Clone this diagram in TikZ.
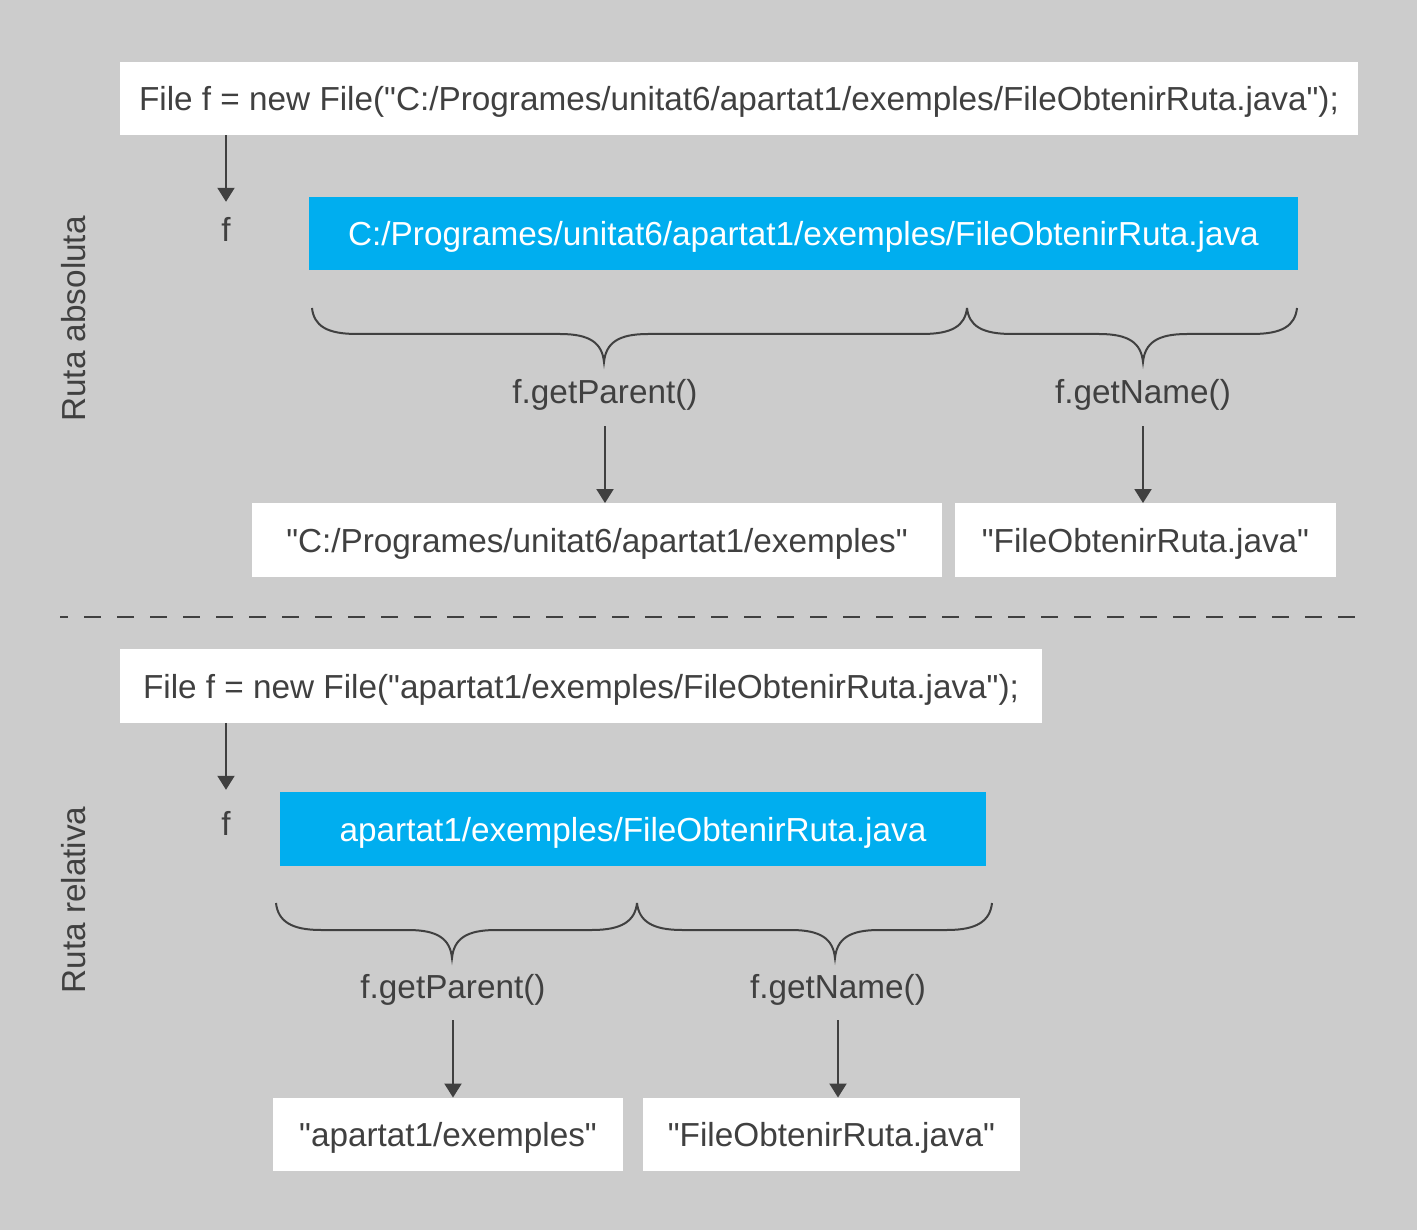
\documentclass[tikz,border=0pt]{standalone}
\usepackage{fontspec}
\setmainfont{Liberation Sans}[Ligatures=TeXOff]
\usetikzlibrary{arrows.meta,calc}
\definecolor{bgc}{RGB}{204,204,204}
\definecolor{bluec}{RGB}{0,174,239}
\definecolor{txtc}{RGB}{64,64,64}
\definecolor{linec}{RGB}{64,64,64}
\begin{document}
\begin{tikzpicture}[x=1pt,y=-1pt,
  every node/.style={font=\fontsize{33.3}{40}\selectfont, text=txtc, inner sep=0pt, text height=24pt, text depth=0pt},
  whitebox/.style={fill=white, minimum height=73.5pt},
  bluebox/.style={fill=bluec, text=white, minimum height=73.5pt},
  lbl/.style={minimum height=68pt},
  conn/.style={draw=linec, line width=2pt, -{Triangle[width=17pt,length=14pt]}},
  bracestyle/.style={draw=linec, line width=2pt},
  sidelbl/.style={rotate=90}]
\fill[bgc] (0,0) rectangle (1417,1230);
\useasboundingbox (0,0) rectangle (1417,1230);

% ---------- absolute path ----------
\node[whitebox, minimum width=1238pt] (code1) at (739,98.5) {File f = new File("C:/Programes/unitat6/apartat1/exemples/FileObtenirRuta.java");};
\node[minimum height=56pt] (f1) at (226,230) {f};
\node[bluebox, minimum width=989pt] (blue1) at (803.5,233.5) {C:/Programes/unitat6/apartat1/exemples/FileObtenirRuta.java};
\node[lbl] (gp1) at (605,392) {f.getParent()};
\node[lbl] (gn1) at (1143,392) {f.getName()};
\node[whitebox, minimum width=690pt] (res1a) at (597,540) {"C:/Programes/unitat6/apartat1/exemples"};
\node[whitebox, minimum width=381pt] (res1b) at (1145.5,540) {"FileObtenirRuta.java"};
\node[sidelbl] (side1) at (73,319) {Ruta absoluta};

\draw[conn] (code1.south -| f1.north) -- (f1.north);
\draw[conn] (gp1.south) -- (gp1.south |- res1a.north);
\draw[conn] (gn1.south) -- (gn1.south |- res1b.north);

\draw[bracestyle] (312,308) .. controls (314,326) and (327,334) .. (357,334)
  -- (560,334) .. controls (590,334) and (602,343) .. (604,362)
  .. controls (606,343) and (618,334) .. (648,334)
  -- (922,334) .. controls (952,334) and (965,326) .. (967,308);
\draw[bracestyle] (967,308) .. controls (969,326) and (982,334) .. (1012,334)
  -- (1099,334) .. controls (1129,334) and (1141,343) .. (1143,362)
  .. controls (1145,343) and (1157,334) .. (1187,334)
  -- (1252,334) .. controls (1282,334) and (1295,326) .. (1297,308);

% ---------- separator ----------
\draw[draw=linec, line width=2pt, dash pattern=on 17pt off 16pt, dash phase=9pt] (60,617) -- (1358,617);

% ---------- relative path ----------
\node[whitebox, minimum width=922pt] (code2) at (581,686) {File f = new File("apartat1/exemples/FileObtenirRuta.java");};
\node[minimum height=66pt] (f2) at (226,823) {f};
\node[bluebox, minimum width=706pt] (blue2) at (633,829) {apartat1/exemples/FileObtenirRuta.java};
\node[lbl] (gp2) at (453,986) {f.getParent()};
\node[lbl] (gn2) at (838,986) {f.getName()};
\node[whitebox, minimum width=350pt] (res2a) at (448,1134.5) {"apartat1/exemples"};
\node[whitebox, minimum width=377pt] (res2b) at (831.5,1134.5) {"FileObtenirRuta.java"};
\node[sidelbl] (side2) at (73,900) {Ruta relativa};

\draw[conn] (code2.south -| f2.north) -- (f2.north);
\draw[conn] (gp2.south) -- (gp2.south |- res2a.north);
\draw[conn] (gn2.south) -- (gn2.south |- res2b.north);

\draw[bracestyle] (276,903) .. controls (278,921) and (291,930) .. (321,930)
  -- (408,930) .. controls (438,930) and (450,939) .. (452,958)
  .. controls (454,939) and (466,930) .. (496,930)
  -- (592,930) .. controls (622,930) and (635,921) .. (637,903);
\draw[bracestyle] (637,903) .. controls (639,921) and (652,930) .. (682,930)
  -- (791,930) .. controls (821,930) and (833,939) .. (835,958)
  .. controls (837,939) and (849,930) .. (879,930)
  -- (947,930) .. controls (977,930) and (990,921) .. (992,903);
\end{tikzpicture}
\end{document}
